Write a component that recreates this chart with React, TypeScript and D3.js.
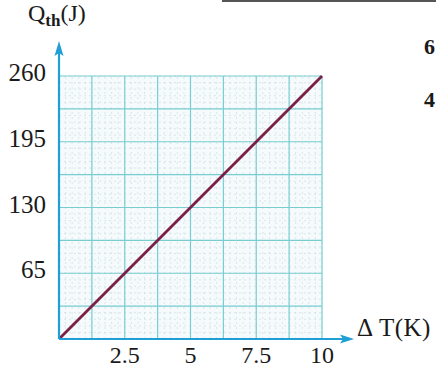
import React from 'react'
import * as d3 from 'd3'

// heat vs temperature change
const deltaT = [0, 2.5, 5, 7.5, 10]
const heat = [0, 65, 130, 195, 260]
const xTicks = [2.5, 5, 7.5, 10]
const yTicks = [65, 130, 195, 260]

const W = 436
const H = 371

export default function App() {
  const x = d3.scaleLinear().domain([0, 10]).range([59, 322])
  const y = d3.scaleLinear().domain([0, 260]).range([339, 76])

  const fineX = d3.range(0, 10.001, 0.25)
  const fineY = d3.range(0, 260.001, 6.5)
  const majorX = d3.range(1.25, 10.001, 1.25)
  const majorY = d3.range(32.5, 260.001, 32.5)

  const line = d3.line<number>()
    .x((d, i) => x(deltaT[i]))
    .y(d => y(d))

  const font = '"Liberation Serif", "DejaVu Serif", serif'
  const blue = '#1f9fd6'

  return (
    <svg width={W} height={H} style={{ position: 'absolute', left: 0, top: 0, background: '#fff' }}>
      <line x1={222} x2={W} y1={1} y2={1} stroke="#555" strokeWidth={2} />

      <rect x={x(0)} y={y(260)} width={x(10) - x(0)} height={y(0) - y(260)} fill="#f5fbfc" />
      {/* fine graph-paper lines */}
      <g stroke="#b9c9cc" strokeWidth={0.6} strokeDasharray="2 3" opacity={0.7}>
        {fineX.map(v => <line key={'fx' + v} x1={x(v)} x2={x(v)} y1={y(0)} y2={y(260)} />)}
        {fineY.map(v => <line key={'fy' + v} x1={x(0)} x2={x(10)} y1={y(v)} y2={y(v)} />)}
      </g>
      <g stroke="#79cdd2" strokeWidth={1.2}>
        {majorX.map(v => <line key={'mx' + v} x1={x(v)} x2={x(v)} y1={y(0)} y2={y(260)} />)}
        {majorY.map(v => <line key={'my' + v} x1={x(0)} x2={x(10)} y1={y(v)} y2={y(v)} />)}
      </g>

      <path d={line(heat) || ''} fill="none" stroke="#7b1f47" strokeWidth={2.8} />

      {/* axes */}
      <line x1={x(0)} x2={344} y1={y(0)} y2={y(0)} stroke={blue} strokeWidth={2.2} />
      <path d={`M354,${y(0)} L340,${y(0) - 4.5} L343,${y(0)} L340,${y(0) + 4.5} Z`} fill={blue} />
      <line x1={x(0)} x2={x(0)} y1={y(0)} y2={52} stroke={blue} strokeWidth={2.2} />
      <path d={`M${x(0)},41 L${x(0) - 4.5},56 L${x(0)},53 L${x(0) + 4.5},56 Z`} fill={blue} />

      <g fontFamily={font} fontSize={25} fill="#1a1a1a">
        {yTicks.map(v => (
          <text key={'yt' + v} x={46} y={y(v) + 5} textAnchor="end">{v}</text>
        ))}
        {xTicks.map(v => (
          <text key={'xt' + v} x={x(v)} y={363} fontSize={24} textAnchor="middle">{v}</text>
        ))}
        <text x={28} y={21} fontSize={24}>Q<tspan fontSize={17} fontWeight="bold" dy={5}>th</tspan><tspan dy={-5}>(J)</tspan></text>
        <text x={357} y={336} fontSize={25} letterSpacing={0.5}>Δ T(K)</text>
        <text x={424} y={54} fontSize={22} fontWeight="bold">6</text>
        <text x={424} y={107} fontSize={22} fontWeight="bold">4</text>
      </g>
    </svg>
  )
}
